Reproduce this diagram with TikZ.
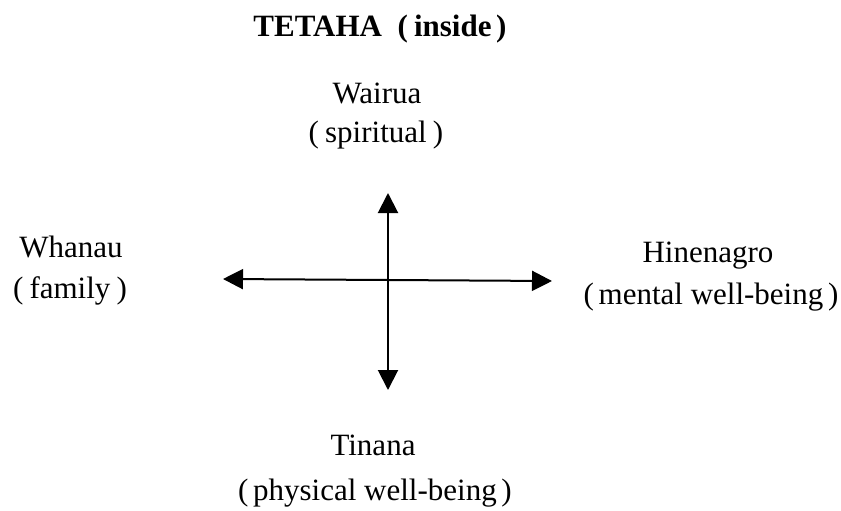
\documentclass[tikz,border=0pt]{standalone}
\usepackage{fontspec}
\setmainfont{Liberation Serif}
\usetikzlibrary{arrows.meta}
\begin{document}
\begin{tikzpicture}[x=1pt,y=-1pt,
  lbl/.style={anchor=base,inner sep=0pt,font=\fontsize{31}{36}\selectfont},
  ttl/.style={anchor=base,inner sep=0pt,font=\fontsize{31}{36}\selectfont\bfseries},
  axis/.style={line width=2pt,{Triangle[length=20pt,width=20pt]}-{Triangle[length=20pt,width=20pt]}}]
\useasboundingbox (0,0) rectangle (841,511);
\node[ttl] (title) at (380,37) {TETAHA\hspace{0.5em}(\hspace{0.2em}inside\hspace{0.15em})};
\node[lbl] (wai) at (377,103) {Wairua};
\node[lbl] (waisub) at (376,142) {(\hspace{0.2em}spiritual\hspace{0.2em})};
\node[lbl] (wha) at (71,257) {Whanau};
\node[lbl] (whasub) at (70,298) {(\hspace{0.2em}family\hspace{0.2em})};
\node[lbl] (hin) at (708,262) {Hinenagro};
\node[lbl] (hinsub) at (711,304) {(\hspace{0.15em}mental well-being\hspace{0.15em})};
\node[lbl] (tin) at (373,455) {Tinana};
\node[lbl] (tinsub) at (375,500) {(\hspace{0.15em}physical well-being\hspace{0.15em})};
\coordinate (top) at (388,193);
\coordinate (bot) at (388,390);
\coordinate (lft) at (223,279);
\coordinate (rgt) at (552,281);
\draw[axis] (bot) -- (top);
\draw[axis] (lft) -- (rgt);
\end{tikzpicture}
\end{document}
